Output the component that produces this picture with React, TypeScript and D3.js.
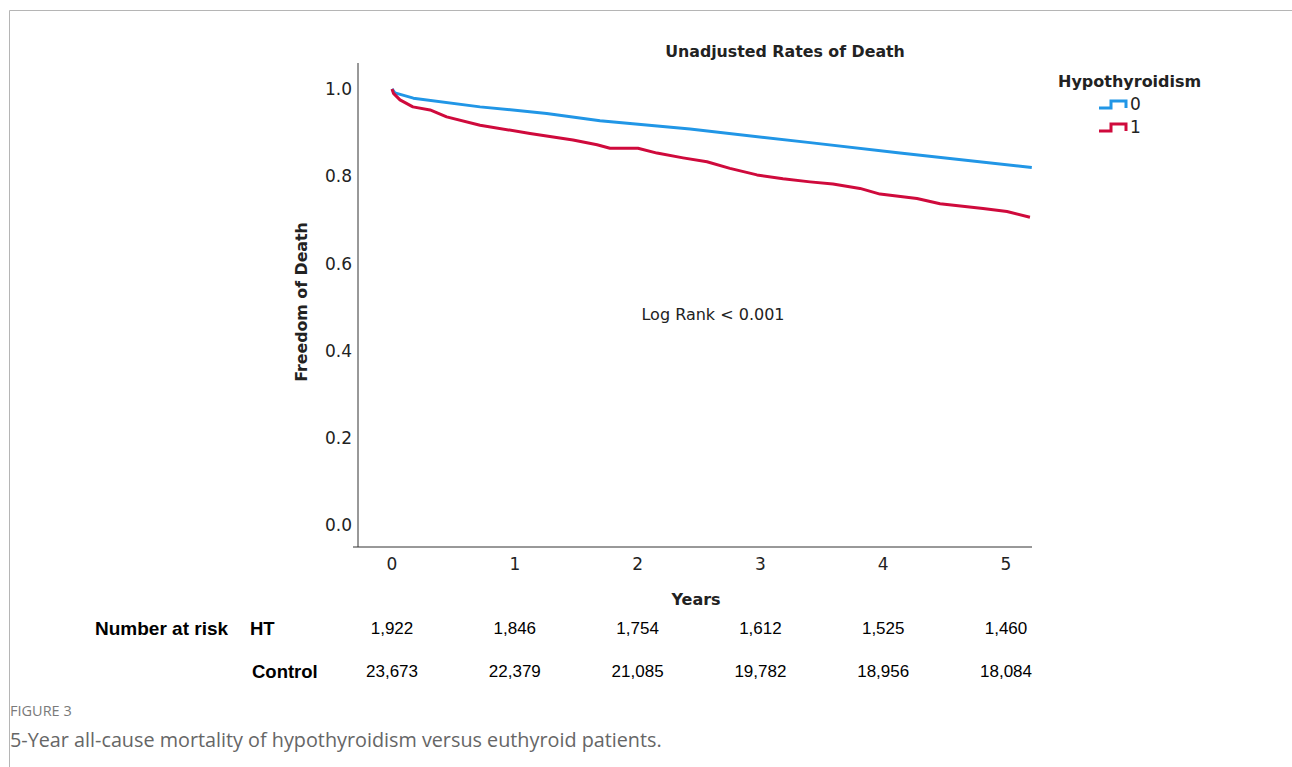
import React from 'react';
import * as d3 from 'd3';

// survival estimates (years, proportion alive)
const controlTimes = [0, 0.024, 0.174, 0.717, 1.26, 1.694, 2.427, 3.404, 4.137, 5.21];
const controlSurv = [1.0, 0.991, 0.979, 0.959, 0.944, 0.927, 0.908, 0.877, 0.853, 0.82];

const htTimes = [0, 0.012, 0.065, 0.17, 0.31, 0.445, 0.717, 1.124, 1.474, 1.67, 1.775, 2.003, 2.158, 2.37, 2.565, 2.752, 2.972, 3.184, 3.404, 3.591, 3.811, 3.974, 4.275, 4.463, 4.813, 5.008, 5.195];
const htSurv = [1.0, 0.99, 0.975, 0.959, 0.952, 0.936, 0.917, 0.898, 0.883, 0.872, 0.864, 0.864, 0.853, 0.842, 0.833, 0.818, 0.803, 0.794, 0.787, 0.782, 0.772, 0.759, 0.749, 0.737, 0.726, 0.719, 0.706];

const yearTicks = [0, 1, 2, 3, 4, 5];
const survTicks = [0, 0.2, 0.4, 0.6, 0.8, 1.0];

const riskHT = ['1,922', '1,846', '1,754', '1,612', '1,525', '1,460'];
const riskControl = ['23,673', '22,379', '21,085', '19,782', '18,956', '18,084'];

const BLUE = '#2196e6';
const RED = '#cf0a3c';
const chartFont = '"DejaVu Sans", sans-serif';
const tableFont = '"Liberation Sans", Arial, sans-serif';
const captionFont = '"Open Sans", sans-serif';

const App = () => {
  const x = d3.scaleLinear().domain([0, 5]).range([392, 1006]);
  const y = d3.scaleLinear().domain([0, 1]).range([525, 89]);

  const line = d3.line<[number, number]>()
    .x(d => x(d[0]))
    .y(d => y(d[1]))
    .curve(d3.curveLinear);

  const controlPath = line(controlTimes.map((t, i) => [t, controlSurv[i]]));
  const htPath = line(htTimes.map((t, i) => [t, htSurv[i]]));

  const axisLeft = 358;
  const axisBottom = 547;
  const axisRight = 1032;

  const legendIcon = (cy: number) =>
    `M1099,${cy + 4} H1111 V${cy - 3} H1126 V${cy + 4}`;

  return (
    <svg width={1292} height={767} style={{ position: 'absolute', left: 0, top: 0, background: '#fff' }}>
      {/* card frame */}
      <path d="M9.5,800 V10.5 H1300" fill="none" stroke="#b5b5b5" strokeWidth={1} />

      <text x={785} y={57} textAnchor="middle" fontFamily={chartFont} fontWeight="bold" fontSize={15.8} fill="#222">
        Unadjusted Rates of Death
      </text>

      {/* axes */}
      <line x1={axisLeft} y1={63} x2={axisLeft} y2={axisBottom} stroke="#333" strokeWidth={1} />
      <line x1={axisLeft - 5} y1={axisBottom} x2={axisRight} y2={axisBottom} stroke="#333" strokeWidth={1} />

      {survTicks.map(t => (
        <text key={t} x={352} y={y(t)} dy="0.36em" textAnchor="end" fontFamily={chartFont} fontSize={17} fill="#222">
          {d3.format('.1f')(t)}
        </text>
      ))}
      {yearTicks.map(t => (
        <text key={t} x={x(t)} y={564} dy="0.36em" textAnchor="middle" fontFamily={chartFont} fontSize={17} fill="#222">
          {t}
        </text>
      ))}

      <text x={696} y={599} dy="0.36em" textAnchor="middle" fontFamily={chartFont} fontWeight="bold" fontSize={16} fill="#222">
        Years
      </text>
      <text transform="translate(301,302) rotate(-90)" dy="0.36em" textAnchor="middle" fontFamily={chartFont} fontWeight="bold" fontSize={15.8} fill="#222">
        Freedom of Death
      </text>

      <path d={controlPath ?? ''} fill="none" stroke={BLUE} strokeWidth={3} strokeLinejoin="round" />
      <path d={htPath ?? ''} fill="none" stroke={RED} strokeWidth={3} strokeLinejoin="round" />

      <text x={713} y={314} dy="0.36em" textAnchor="middle" fontFamily={chartFont} fontSize={16} fill="#222">
        Log Rank &lt; 0.001
      </text>

      {/* legend */}
      <text x={1058} y={81} dy="0.36em" fontFamily={chartFont} fontWeight="bold" fontSize={16} fill="#222">
        Hypothyroidism
      </text>
      <path d={legendIcon(104)} fill="none" stroke={BLUE} strokeWidth={3} />
      <text x={1130} y={104} dy="0.36em" fontFamily={chartFont} fontSize={17} fill="#222">0</text>
      <path d={legendIcon(127)} fill="none" stroke={RED} strokeWidth={3} />
      <text x={1130} y={127} dy="0.36em" fontFamily={chartFont} fontSize={17} fill="#222">1</text>

      {/* number at risk table */}
      <text x={95} y={628} dy="0.36em" fontFamily={tableFont} fontWeight="bold" fontSize={19} fill="#000">
        Number at risk
      </text>
      <text x={250} y={628} dy="0.36em" fontFamily={tableFont} fontWeight="bold" fontSize={18.5} fill="#000">HT</text>
      <text x={252} y={671} dy="0.36em" fontFamily={tableFont} fontWeight="bold" fontSize={18.5} fill="#000">Control</text>
      {riskHT.map((v, i) => (
        <text key={'ht' + i} x={x(yearTicks[i])} y={628} dy="0.36em" textAnchor="middle" fontFamily={tableFont} fontSize={17} fill="#000">
          {v}
        </text>
      ))}
      {riskControl.map((v, i) => (
        <text key={'c' + i} x={x(yearTicks[i])} y={671} dy="0.36em" textAnchor="middle" fontFamily={tableFont} fontSize={17} fill="#000">
          {v}
        </text>
      ))}

      {/* caption */}
      <text x={10} y={711} dy="0.36em" fontFamily={captionFont} fontSize={14.5} fill="#7a7a7a">
        FIGURE 3
      </text>
      <text x={10} y={740} dy="0.36em" fontFamily={captionFont} fontSize={19.8} fill="#666">
        5-Year all-cause mortality of hypothyroidism versus euthyroid patients.
      </text>
    </svg>
  );
};

export default App;
